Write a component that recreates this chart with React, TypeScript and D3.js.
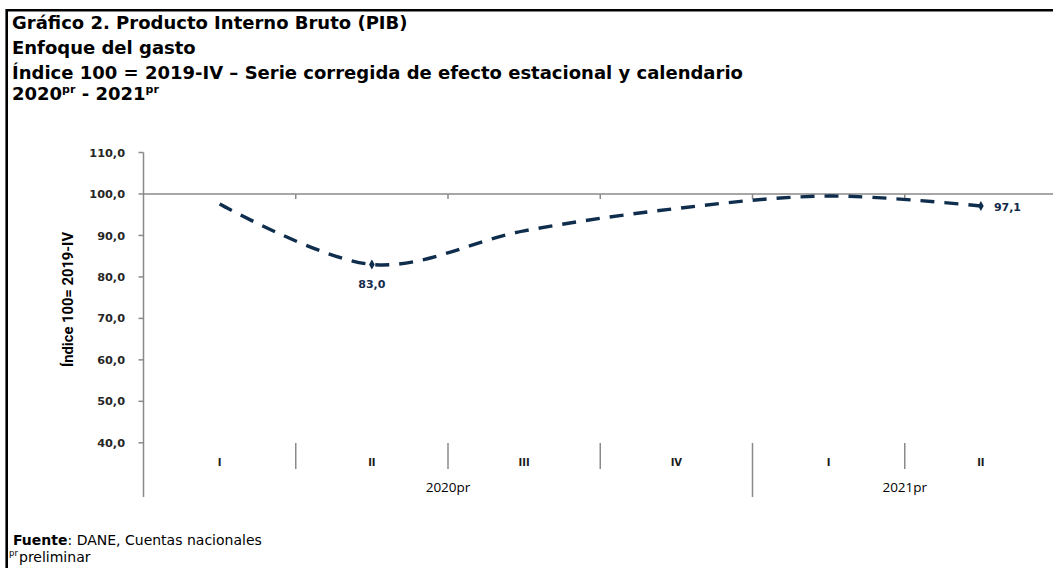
import React from 'react';
import * as d3 from 'd3';

// ---- data ----
const quarters = ['I', 'II', 'III', 'IV', 'I', 'II'];
const years = ['2020pr', '2021pr'];
const yearSpans = [4, 2];
const values = [97.6, 83.0, 91.1, 96.5, 99.5, 97.1];
const labeledIdx = [1, 5];
const yTicks = [40, 50, 60, 70, 80, 90, 100, 110];
const titleLines = [
  'Gráfico 2. Producto Interno Bruto (PIB)',
  'Enfoque del gasto',
  'Índice 100 = 2019-IV – Serie corregida de efecto estacional y calendario',
];
const yAxisTitle = 'Índice 100= 2019-IV';

const W = 1053;
const H = 568;
const fmt = (v: number) => d3.format('.1f')(v).replace('.', ',');

export default function App() {
  const x = d3.scaleBand<number>().domain(d3.range(quarters.length)).range([143.5, 1057]).padding(0);
  const bw = x.bandwidth();
  const cx = (i: number) => (x(i) as number) + bw / 2;
  const y = d3.scaleLinear().domain([40, 110]).range([442.8, 152.5]);
  const axisBottom = 497;
  const line = d3
    .line<number>()
    .x((_, i) => cx(i))
    .y((d) => y(d))
    .curve(d3.curveCardinal.tension(0));
  const diamond = d3.symbol().type(d3.symbolDiamond).size(28)() as string;

  const axisColor = '#8a8a8a';
  const navy = '#0f2d4c';

  const yearStarts: number[] = [];
  let acc = 0;
  yearSpans.forEach((s) => {
    yearStarts.push(acc);
    acc += s;
  });

  const titleFont = "'DejaVu Sans', Verdana, sans-serif";

  return (
    <svg width={W} height={H} style={{ position: 'absolute', left: 0, top: 0, background: '#fff' }}>
      <rect x={0} y={0} width={W} height={H} fill="#fff" />
      {/* frame */}
      <line x1={6.7} x2={W} y1={10.3} y2={10.3} stroke="#000" strokeWidth={2.6} />
      <line x1={6.7} x2={6.7} y1={9} y2={H} stroke="#000" strokeWidth={2.6} />

      {/* titles */}
      <g fontFamily={titleFont} fontWeight="bold" fontSize={18} fill="#000">
        <text x={12} y={29}>{titleLines[0]}</text>
        <text x={12} y={54}>{titleLines[1]}</text>
        <text x={12} y={78.5}>{titleLines[2]}</text>
        <text x={12} y={100}>
          2020<tspan fontSize={11} dy={-7}>pr</tspan>
          <tspan dy={7}> - 2021</tspan>
          <tspan fontSize={11} dy={-7}>pr</tspan>
        </text>
      </g>

      {/* y axis */}
      <line x1={x(0)} x2={x(0)} y1={y(110)} y2={axisBottom} stroke={axisColor} strokeWidth={1.5} />
      {yTicks.map((t) => (
        <g key={t}>
          <line x1={(x(0) as number) - 5} x2={x(0)} y1={y(t)} y2={y(t)} stroke={axisColor} strokeWidth={1.5} />
          <text
            x={125}
            y={y(t)}
            dy="0.36em"
            textAnchor="end"
            fontFamily="'DejaVu Sans', sans-serif"
            fontWeight="bold"
            fontSize={11.3}
            fill="#262626"
          >
            {fmt(t)}
          </text>
        </g>
      ))}
      <text
        transform={`translate(73,${299.5}) rotate(-90)`}
        textAnchor="middle"
        fontFamily="Roboto, sans-serif"
        fontWeight="bold"
        fontSize={14}
        textLength={135}
        lengthAdjust="spacingAndGlyphs"
        fill="#000"
      >
        {yAxisTitle}
      </text>

      {/* horizontal axis at 100 */}
      <line x1={x(0)} x2={W} y1={y(100)} y2={y(100)} stroke={axisColor} strokeWidth={1.5} />
      {quarters.slice(1).map((_, k) => (
        <line
          key={k}
          x1={x(k + 1)}
          x2={x(k + 1)}
          y1={y(100)}
          y2={y(100) + 5}
          stroke={axisColor}
          strokeWidth={1.5}
        />
      ))}

      {/* category label area */}
      {quarters.slice(1).map((_, k) => {
        const isYear = yearStarts.includes(k + 1);
        return (
          <line
            key={'s' + k}
            x1={x(k + 1)}
            x2={x(k + 1)}
            y1={443}
            y2={isYear ? axisBottom : 469}
            stroke={axisColor}
            strokeWidth={1.5}
          />
        );
      })}
      {quarters.map((q, i) => (
        <text
          key={'q' + i}
          x={cx(i)}
          y={466}
          textAnchor="middle"
          fontFamily="'DejaVu Sans', sans-serif"
          fontWeight="bold"
          fontSize={10}
          fill="#1a1a1a"
        >
          {q}
        </text>
      ))}
      {years.map((yr, j) => {
        const a = x(yearStarts[j]) as number;
        const b = (x(yearStarts[j] + yearSpans[j] - 1) as number) + bw;
        return (
          <text
            key={yr}
            x={(a + b) / 2}
            y={492}
            textAnchor="middle"
            fontFamily="'Open Sans', sans-serif"
            fontSize={13.5}
            fill="#000"
          >
            {yr}
          </text>
        );
      })}

      {/* series */}
      <path
        d={line(values) as string}
        fill="none"
        stroke={navy}
        strokeWidth={3.4}
        strokeDasharray="14 10"
      />
      {labeledIdx.map((i) => (
        <path key={'m' + i} d={diamond} transform={`translate(${cx(i)},${y(values[i])})`} fill={navy} />
      ))}
      <text
        x={cx(1)}
        y={y(values[1]) + 24}
        textAnchor="middle"
        fontFamily="'DejaVu Sans', sans-serif"
        fontWeight="bold"
        fontSize={11}
        fill="#13294b"
      >
        {fmt(values[1])}
      </text>
      <text
        x={cx(5) + 13}
        y={y(values[5]) + 5}
        textAnchor="start"
        fontFamily="'DejaVu Sans', sans-serif"
        fontWeight="bold"
        fontSize={11}
        fill="#13294b"
      >
        {fmt(values[5])}
      </text>

      {/* footer */}
      <g fontFamily="'DejaVu Sans', sans-serif" fill="#000">
        <text x={13} y={545} fontSize={14}>
          <tspan fontWeight="bold">Fuente</tspan>
          <tspan>: DANE, Cuentas nacionales</tspan>
        </text>
        <text x={9} y={556} fontSize={8.5}>pr</text>
        <text x={19} y={562} fontSize={14}>preliminar</text>
      </g>
    </svg>
  );
}
